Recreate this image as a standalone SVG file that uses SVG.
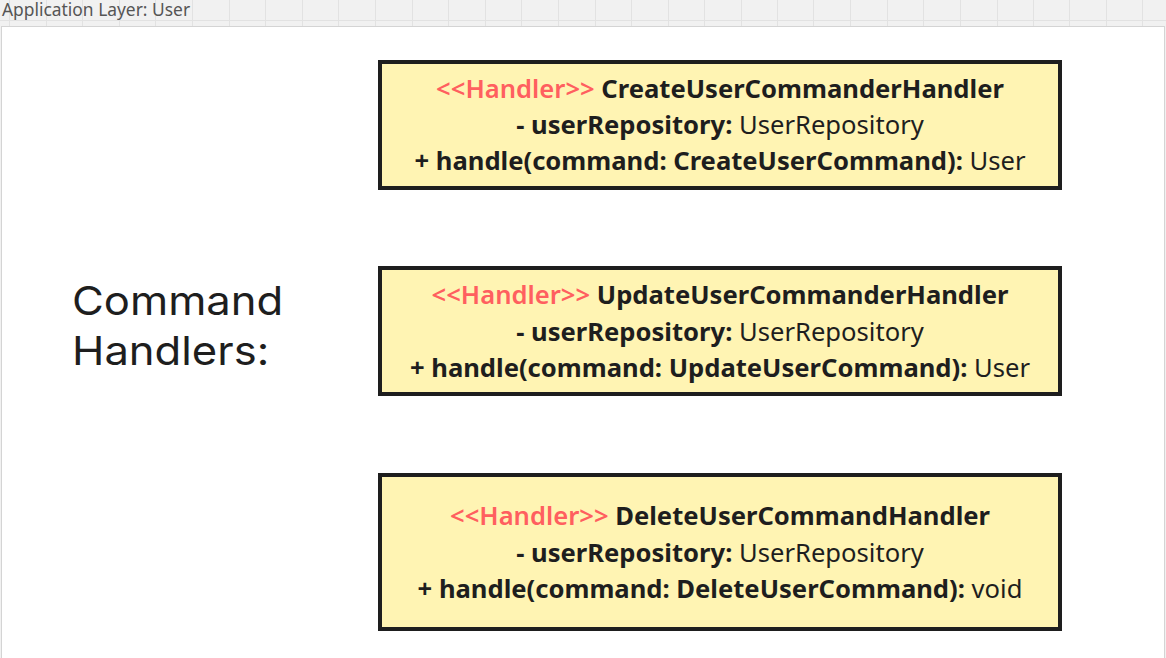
<svg xmlns="http://www.w3.org/2000/svg" width="1166" height="658" viewBox="0 0 1166 658">
<style>
.grid{stroke:#e2e2e2;stroke-width:1}
.box{fill:#fff4b3;stroke:#1e1e1e;stroke-width:4}
.t{font-family:"Noto Sans","Open Sans",sans-serif;font-size:25.6px;text-anchor:middle;fill:#1e1e1e}
.b{font-weight:700}
.st{fill:#ff5f5f;font-weight:600}
.lbl{font-family:Inter,Lato,sans-serif;font-size:40px;fill:#1e1e1e}
</style>
<rect x="0" y="0" width="1166" height="658" fill="#f1f1f1"/>
<g id="grid">
<path class="grid" d="M9.5 0V27M46.5 0V27M82.5 0V27M119.5 0V27M155.5 0V27M192.5 0V27M229.5 0V27M265.5 0V27M302.5 0V27M338.5 0V27M375.5 0V27M412.5 0V27M448.5 0V27M485.5 0V27M521.5 0V27M558.5 0V27M595.5 0V27M631.5 0V27M668.5 0V27M704.5 0V27M741.5 0V27M777.5 0V27M813.5 0V27M850.5 0V27M887.5 0V27M923.5 0V27M960.5 0V27M997.5 0V27M1033.5 0V27M1069.5 0V27M1106.5 0V27M1142.5 0V27M0 20.5H1166"/>
</g>
<rect x="1.5" y="26.5" width="1163" height="640" fill="#ffffff" stroke="#d4d4d4" stroke-width="1"/>
<text x="2" y="16" font-family="Noto Sans, Open Sans, sans-serif" font-size="17.4" fill="#555555">Application Layer: User</text>
<g id="label" transform="translate(72 0) scale(1.09 1)">
<text class="lbl" x="0" y="315">Command</text>
<text class="lbl" x="0" y="365">Handlers:</text>
</g>
<g id="create">
<rect class="box" x="380" y="62" width="680" height="126"/>
<text class="t" x="720" y="98"><tspan class="st">&lt;&lt;Handler&gt;&gt;</tspan> <tspan class="b">CreateUserCommanderHandler</tspan></text>
<text class="t" x="720" y="134"><tspan class="b">- userRepository:</tspan> UserRepository</text>
<text class="t" x="720" y="170"><tspan class="b">+ handle(command: CreateUserCommand):</tspan> User</text>
</g>
<g id="update">
<rect class="box" x="380" y="268" width="680" height="126"/>
<text class="t" x="720" y="304"><tspan class="st">&lt;&lt;Handler&gt;&gt;</tspan> <tspan class="b">UpdateUserCommanderHandler</tspan></text>
<text class="t" x="720" y="341"><tspan class="b">- userRepository:</tspan> UserRepository</text>
<text class="t" x="720" y="377"><tspan class="b">+ handle(command: UpdateUserCommand):</tspan> User</text>
</g>
<g id="delete">
<rect class="box" x="380" y="475" width="680" height="154"/>
<text class="t" x="720" y="525"><tspan class="st">&lt;&lt;Handler&gt;&gt;</tspan> <tspan class="b">DeleteUserCommandHandler</tspan></text>
<text class="t" x="720" y="562"><tspan class="b">- userRepository:</tspan> UserRepository</text>
<text class="t" x="720" y="598"><tspan class="b">+ handle(command: DeleteUserCommand):</tspan> void</text>
</g>
<g id="connectors"/>
</svg>
